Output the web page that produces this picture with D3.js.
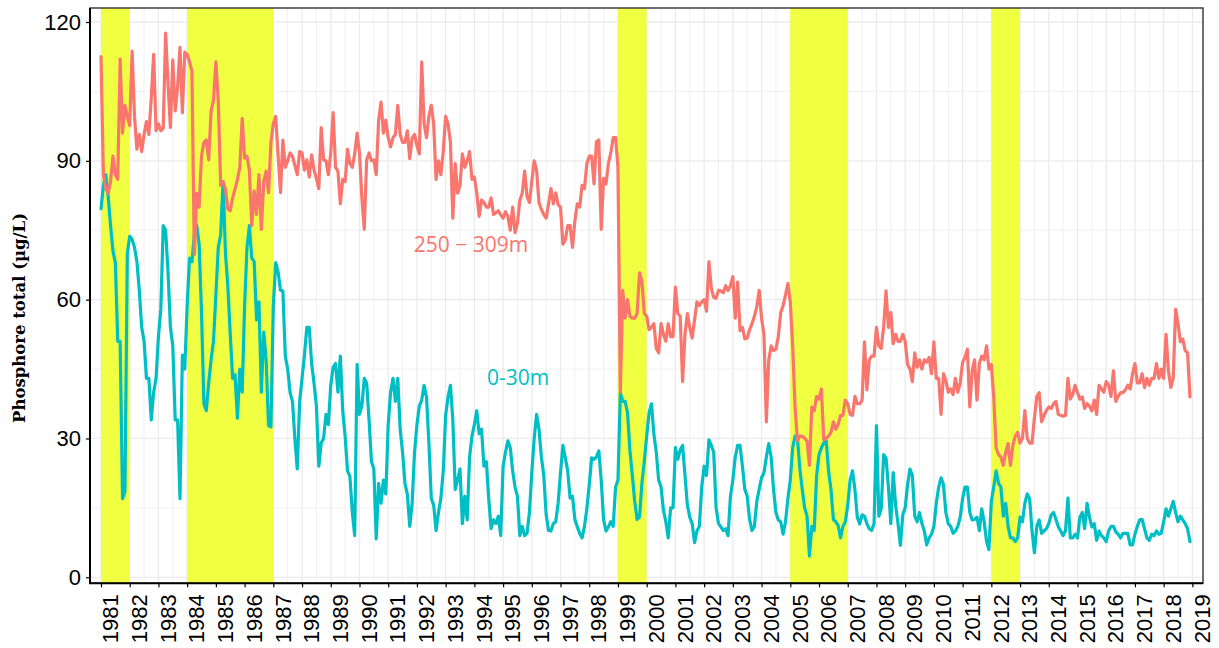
<!DOCTYPE html>
<html><head><meta charset="utf-8">
<script src="https://cdn.jsdelivr.net/npm/d3@7"></script>
<style>body{margin:0;background:#fff;} svg{display:block;}</style>
</head><body>
<svg id="chart" width="1219" height="648"></svg>
<script>
// ---------- data ----------
const startYear = 1981; // monthly series, first value = Jan 1981
const yearTicks = [1981,1982,1983,1984,1985,1986,1987,1988,1989,1990,1991,1992,1993,1994,1995,1996,1997,1998,1999,2000,2001,2002,2003,2004,2005,2006,2007,2008,2009,2010,2011,2012,2013,2014,2015,2016,2017,2018,2019];
const yTicks = [0, 30, 60, 90, 120];
const yMinor = [15, 45, 75, 105];
const bandStarts = [1981, 1984, 1999, 2005, 2012];
const bandEnds   = [1982, 1987, 2000, 2007, 2013];
const deepLabel = "250 \u2212 309m";
const surfaceLabel = "0-30m";
const yTitle = "Phosphore total (\u00b5g/L)";

const deepValues = [
 112.5,87,84,83,85.5,91,87,86,112,96,102,99.6,
 97.6,113.7,99.6,92.5,95.7,92,95.7,98.5,95.7,103.5,113,96.5,
 98,96.5,97,117.6,106.7,97.2,111.8,100.8,105.9,114.5,100.4,113.5,
 113,111.4,109.4,69.7,83,80,91,94,94.5,90.2,100.8,103,
 111.4,103,84.7,85.5,83.9,79.6,79.2,82,83.9,86,88.6,99.2,
 90.6,91,88,76,83.5,78.4,87,75.2,85.5,87.8,83.1,94,
 98,99.6,91,83.1,94.5,88.6,90,91.7,91,89,87,92,
 91.7,88,90.2,86.5,91.3,88,86.2,84,97.2,90.2,90,87,
 91.7,100.4,88.6,87.8,80.7,86,85.5,92.5,89.4,88.6,91.5,96,
 91.7,82,75.2,90.2,91.7,90,90.2,87,98.8,102.7,96,98.8,
 95,93,95,95.7,102,95.7,94,94,96.5,90.5,94.9,95.7,
 93.3,91.5,111.4,98,95,99.6,102,98,86,90,87,92,
 99.6,98,94,77.6,89.4,83,84.7,91.5,88.6,90,92,86,
 86.5,83.1,78,81.5,81,80,80,82,78.4,78.8,79.2,78.4,
 77.6,79,78,75,80,74.5,76.5,81.5,83,87.8,82.3,81,
 85.5,90,88,81,79.5,78.4,77.6,80.7,84,80.7,83.1,80.5,
 80,72,72.9,76,76,71.3,77,80.7,80,84.7,84,89.4,
 91,91,85,94.1,94.5,75.2,86.2,85,89.4,91.7,95,95,
 88.6,40,62,56,60,56.4,56,56,57,65.8,64,57,
 56.4,53.5,54,54.8,49.5,48.5,54.8,52.5,51,54.8,52,52,
 62.7,57,56.4,42.3,52.5,57,54,51.7,55.6,59.5,58.7,59.5,
 60,57.5,68.2,62.5,60.5,60.3,62,61.9,61.5,63,62,63,
 65,56,63.8,53.3,54,51.5,51.7,53.5,54.8,56.4,58.5,62,
 56,52.5,33.6,47,50,49,49.3,52,57.2,58.7,61,63.5,
 59.5,50,36.8,29.5,30.5,30.5,30,29.5,24.2,36.8,36,39.1,
 38.5,40.7,29.7,30,30.5,31.3,33.6,32,33,35,35,38.3,
 37.5,35.2,35,39.1,37.5,37.5,38.3,50.9,40.5,47,47.8,47.8,
 54,50,49.5,54,61.9,54,57.2,50.5,52.5,51,51,52.5,
 51,46,45,42.3,48.5,45.4,47,45,47,46.5,47.5,44,
 50.9,43,43,35.2,44,42.5,40,40.7,39.5,43,40,42,
 46.5,47.5,49.3,36.8,44.6,47,38.3,46.2,47.8,47,50,45,
 46,39,28,26.5,26,24.2,27,28.9,24.2,28.5,30.5,31.3,
 29,30,36,30,29,29,34.4,39.1,39.9,33.6,35,36,
 36.8,36.5,37.5,38,35.2,35,34.8,35,43,38.5,39.5,41.5,
 39.9,38.5,39,36.5,37.5,37,36,38.3,35.2,41.5,40.7,40,
 42.3,41.5,39.1,44.6,38,39.1,39.9,39.9,40.5,41.5,40.7,44,
 46.2,42,42,44,41,43,41.5,43,43,46.2,43,45,
 43,52.5,44.6,41,43,57.9,54.8,50.9,51.5,49,48.5,39
];

const surfaceValues = [
 79.6,84.7,87,82.3,76,70.5,68,51,51,17,18.5,70,
 73.7,73,71.3,68.2,62,54,51,43,43,34,40,43,
 52,58,76,75,66,54,50,34,34,17,48,45,
 58.7,69,68.2,74,76,72,57.2,37.5,36,42,47,51,
 61,71.3,74,85.5,70,63,52.5,43,43.8,34.4,45,40,
 58.7,71.3,76,69,68.2,55.6,59.5,40,53,47,32.8,32.5,
 58.7,68,66,62,61.9,47.8,45,39.9,38,30,23.4,38,
 43,48,54,54,46.2,42,37,24,29,30,35.2,33,
 41.5,45.4,46.2,40,47.8,36,30.5,23,21.8,14,9,46,
 35.2,37,43,42,34,25,23.4,8.3,20.3,16,21,18,
 33,40,43,38,43,32,27,20.3,17.9,11,16,27,
 33,37,38.3,41.5,39,29,17,15.6,10.1,14,17,23,
 35,39,41.5,34,19,21,23.4,11.6,17.5,12.4,26,30.5,
 33,36,31,32,24,25,17,10.5,12.4,11.6,13.2,9,
 24,27,29.5,28,23,19.5,17.5,9,11,9,9.5,14,
 22.6,30,35.2,32,26,22,13.5,10.1,10,11.6,12,16,
 22.6,28.5,25.8,23,17.1,17.5,12.5,10.9,9.5,8.5,11,14.8,
 20,25.8,25.5,26,27.3,21,12.4,10,10.9,12,11,19.5,
 21,39.9,38,38,35.5,27.3,22,16.4,12.5,13,20.3,25,
 30.5,35.5,37.5,31,27,21,19.5,14.5,12,8.5,15,15,
 28,25.5,27.5,28.5,22,15.6,13,11.6,7.5,10,11,19.5,
 24,22,29.7,28.5,27,15,11.6,10.9,10.1,10.5,9,17.5,
 21,26,28.5,28.5,24,19,17.5,12.5,10.1,11,16.4,19,
 21.5,22.6,26,28.9,26,19,14,12.4,12,9.3,12,17,
 21,28,30.5,30,23.4,19,15,13.2,4.6,11,10.1,22,
 26.5,28,29,29.5,23,19,12.5,12,11.2,8.5,11,12,
 15.6,21,23,19,13,11.5,13.5,13.2,11.6,10.5,10.1,11.6,
 32.8,13.2,14.8,26.5,25.8,19.5,11.6,22.6,15.6,11.6,6.9,13.5,
 15,20,23.4,22,13.2,12,14,11.6,10,7,8.5,9.3,
 11,16,19.5,21.5,20,14,11.6,11,9.5,10,11,13,
 17,19.5,19.5,14,12.4,12.5,13,10.1,14.8,12,7.7,6,
 16.4,19.5,23,20.3,19.5,13.2,16,11,8.5,8.5,7.7,8.5,
 13,12,16,18,17,10,5.3,11,12.4,9.5,10,10.5,
 11.6,13.5,14,12.5,10.9,10,9,10.1,17.1,8.5,8.5,9.3,
 8.5,13,14,10.5,16,13,10.9,11.6,8,10,9,8.5,
 7.7,10,11,11,9.8,9.3,8.5,9.5,9.5,9.5,7,7,
 9.3,11,12.4,12.5,10.5,8.5,8,9.3,9,10,9.3,9.5,
 12,14.8,13.2,14.8,16.4,14,12,13.2,12.4,11.6,10.5,7.7
];

// ---------- layout ----------
const svg = d3.select("#chart");
const L = 90, R = 1203, T = 8, B = 583.3;
const x = d3.scaleLinear().domain([1980.617, 2019.37]).range([L, R]);
const y = d3.scaleLinear().domain([-1.3, 123.03]).range([B, T]);
const tOf = i => startYear + i / 12;

const COL_DEEP = "#F8766D", COL_SURF = "#00BFC4", COL_BAND = "#f0ff42";

// grid
const g = svg.append("g");
g.selectAll(".ymin").data(yMinor).join("line")
  .attr("x1", L).attr("x2", R).attr("y1", d => y(d)).attr("y2", d => y(d))
  .attr("stroke", "#ececec").attr("stroke-width", 0.8);
g.selectAll(".xmin").data(yearTicks.slice(0, -1)).join("line")
  .attr("y1", T).attr("y2", B).attr("x1", d => x(d + 0.5)).attr("x2", d => x(d + 0.5))
  .attr("stroke", "#ececec").attr("stroke-width", 0.8);
g.selectAll(".ymaj").data(yTicks).join("line")
  .attr("x1", L).attr("x2", R).attr("y1", d => y(d)).attr("y2", d => y(d))
  .attr("stroke", "#ebebeb").attr("stroke-width", 1.3);
g.selectAll(".xmaj").data(yearTicks).join("line")
  .attr("y1", T).attr("y2", B).attr("x1", d => x(d)).attr("x2", d => x(d))
  .attr("stroke", "#ebebeb").attr("stroke-width", 1.3);

// bands
svg.append("g").selectAll("rect").data(bandStarts).join("rect")
  .attr("x", d => x(d)).attr("width", (d, i) => x(bandEnds[i]) - x(d))
  .attr("y", T).attr("height", B - T).attr("fill", COL_BAND);

// lines
const line = d3.line().x((d, i) => x(tOf(i))).y(d => y(d));
svg.append("path").datum(surfaceValues).attr("d", line)
  .attr("fill", "none").attr("stroke", COL_SURF).attr("stroke-width", 3.2)
  .attr("stroke-linejoin", "round").attr("stroke-linecap", "round");
svg.append("path").datum(deepValues).attr("d", line)
  .attr("fill", "none").attr("stroke", COL_DEEP).attr("stroke-width", 3.2)
  .attr("stroke-linejoin", "round").attr("stroke-linecap", "round");

// labels
svg.append("text").attr("x", 471).attr("y", 252).attr("text-anchor", "middle")
  .attr("font-family", "'Open Sans', 'Noto Sans', sans-serif").attr("font-size", 21)
  .attr("fill", COL_DEEP).text(deepLabel);
svg.append("text").attr("x", 518).attr("y", 385).attr("text-anchor", "middle")
  .attr("font-family", "'Open Sans', 'Noto Sans', sans-serif").attr("font-size", 21)
  .attr("fill", COL_SURF).text(surfaceLabel);

// panel border
svg.append("rect").attr("x", L).attr("y", T).attr("width", R - L).attr("height", B - T)
  .attr("fill", "none").attr("stroke", "#333").attr("stroke-width", 1.4);

// axes
const yAxis = svg.append("g").attr("transform", `translate(${L},0)`)
  .call(d3.axisLeft(y).tickValues(yTicks).tickSize(4).tickPadding(5).tickFormat(d3.format("d")));
yAxis.select(".domain").remove();
yAxis.selectAll("text").attr("font-family", "'Liberation Sans', Arial, sans-serif")
  .attr("font-size", 22).attr("fill", "#000");
yAxis.selectAll("line").attr("stroke", "#000").attr("stroke-width", 1.2);

const xAxis = svg.append("g").attr("transform", `translate(0,${B})`)
  .call(d3.axisBottom(x).tickValues(yearTicks).tickSize(4).tickFormat(d3.format("d")));
xAxis.select(".domain").remove();
xAxis.selectAll("line").attr("stroke", "#000").attr("stroke-width", 1.2);
xAxis.selectAll("text")
  .attr("font-family", "'Liberation Sans', Arial, sans-serif").attr("font-size", 22).attr("fill", "#000")
  .attr("transform", "rotate(-90)").attr("text-anchor", "end")
  .attr("x", -11).attr("y", 0).attr("dy", "0.76em");

svg.append("line").attr("x1", L).attr("x2", L).attr("y1", T).attr("y2", B + 0.8)
  .attr("stroke", "#000").attr("stroke-width", 2);
svg.append("line").attr("x1", L - 0.8).attr("x2", R).attr("y1", B).attr("y2", B)
  .attr("stroke", "#000").attr("stroke-width", 2);

// y title
svg.append("text").attr("transform", "translate(25,318) rotate(-90)")
  .attr("text-anchor", "middle").attr("font-family", "'DejaVu Serif', serif")
  .attr("font-weight", "bold").attr("font-size", 16.5).attr("fill", "#000")
  .text(yTitle);
</script>
</body></html>
